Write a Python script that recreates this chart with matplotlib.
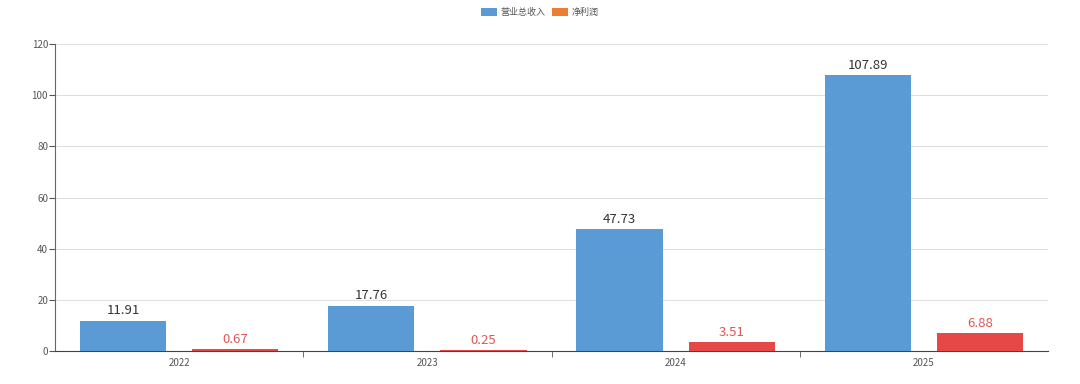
import numpy as np
import matplotlib
matplotlib.use("Agg")
from matplotlib import pyplot as plt
from matplotlib.patches import Patch

plt.rcParams["font.family"] = ["Noto Sans CJK SC", "DejaVu Sans"]

years = ["2022", "2023", "2024", "2025"]
revenue = [11.91, 17.76, 47.73, 107.89]
net_profit = [0.67, 0.25, 3.51, 6.88]
series_names = ["营业总收入", "净利润"]

blue = "#5b9bd5"
red = "#e64848"
label_red = "#e05555"
legend_red = "#ed7d31"

fig = plt.figure(figsize=(10.8, 3.84), dpi=100)
ax = fig.add_axes([55 / 1080, 1 - 351 / 384, (1048 - 55) / 1080, (351 - 44) / 384])

x = np.arange(len(years))
w = 0.347
off = 0.226
b1 = ax.bar(x - off, revenue, w, color=blue, zorder=3)
b2 = ax.bar(x + off, net_profit, w, color=red, zorder=3)

for rect, v in zip(b1, revenue):
    ax.text(rect.get_x() + rect.get_width() / 2, v + 1.3, f"{v:.2f}",
            ha="center", va="bottom", fontsize=9.5, color="#333333")
for rect, v in zip(b2, net_profit):
    ax.text(rect.get_x() + rect.get_width() / 2, v + 1.3, f"{v:.2f}",
            ha="center", va="bottom", fontsize=9.5, color=label_red)

ax.set_xlim(-0.5, len(years) - 0.5)
ax.set_ylim(0, 120)
ax.set_yticks(range(0, 121, 20))
ax.set_xticks(x)
ax.set_xticklabels(years)
ax.set_xticks(np.arange(0.5, len(years) - 0.5, 1), minor=True)
ax.tick_params(axis="x", which="major", length=0, labelsize=7, colors="#555555", pad=5)
ax.tick_params(axis="x", which="minor", length=4, color="#555555", direction="out")
ax.tick_params(axis="y", length=4, labelsize=7, colors="#555555", pad=1)

ax.grid(axis="y", color="#e0e0e0", linewidth=0.8, zorder=0)
for s in ["top", "right"]:
    ax.spines[s].set_visible(False)
ax.spines["left"].set_color("#666666")
ax.spines["bottom"].set_color("#444444")

handles = [Patch(facecolor=blue, label=series_names[0]),
           Patch(facecolor=legend_red, label=series_names[1])]
fig.legend(handles=handles, loc="upper center", bbox_to_anchor=(0.5, 1.0), ncol=2,
           frameon=False, fontsize=6.5, handlelength=1.8, handleheight=1.0,
           columnspacing=0.7, handletextpad=0.4, labelcolor="#555555")

fig.savefig("out.png", dpi=100)
